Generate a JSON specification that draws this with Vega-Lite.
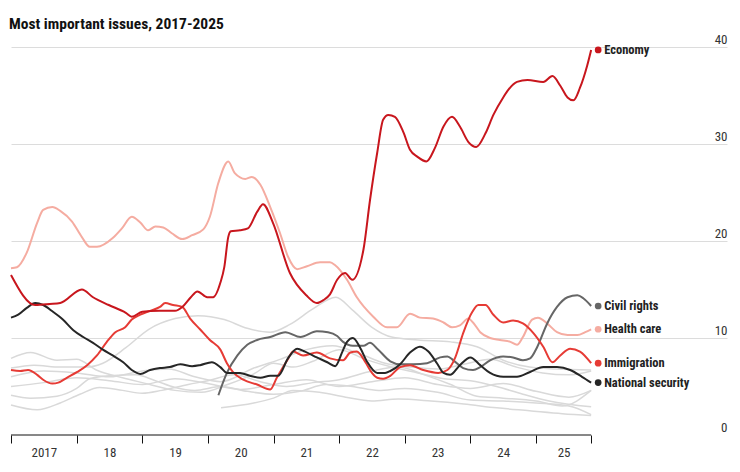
{
  "$schema": "https://vega.github.io/schema/vega-lite/v6.json",
  "width": 716,
  "height": 388,
  "autosize": {"type": "none"},
  "padding": {"left": 11, "top": 47, "right": 13, "bottom": 37},
  "background": "white",
  "title": {"text": "Most important issues, 2017-2025", "anchor": "start", "frame": "group", "fontSize": 15.5, "fontWeight": "bold", "font": "Liberation Sans Narrow, Roboto Condensed, DejaVu Sans Condensed, sans-serif", "color": "#111111", "offset": 19, "baseline": "alphabetic", "dx": -2, "dy": 30},
  "config": {
    "view": {"stroke": null},
    "font": "Liberation Sans Narrow, Roboto Condensed, DejaVu Sans Condensed, sans-serif"
  },
  "datasets": {
    "bg": [
      {"s":"G1","t":2017.00,"v":6.9},{"s":"G1","t":2017.35,"v":7.2},{"s":"G1","t":2017.75,"v":7.0},{"s":"G1","t":2018.15,"v":7.0},{"s":"G1","t":2018.40,"v":7.4},{"s":"G1","t":2018.75,"v":9.0},{"s":"G1","t":2019.10,"v":10.9},{"s":"G1","t":2019.50,"v":12.0},{"s":"G1","t":2019.85,"v":12.3},{"s":"G1","t":2020.25,"v":11.9},{"s":"G1","t":2020.60,"v":11.0},{"s":"G1","t":2020.95,"v":10.6},{"s":"G1","t":2021.25,"v":11.4},{"s":"G1","t":2021.60,"v":13.0},{"s":"G1","t":2021.95,"v":14.2},{"s":"G1","t":2022.20,"v":12.9},{"s":"G1","t":2022.50,"v":11.1},{"s":"G1","t":2022.80,"v":10.1},{"s":"G1","t":2023.20,"v":9.8},{"s":"G1","t":2023.70,"v":9.6},{"s":"G1","t":2024.10,"v":9.1},{"s":"G1","t":2024.50,"v":7.7},{"s":"G1","t":2024.90,"v":7.0},{"s":"G1","t":2025.30,"v":6.8},{"s":"G1","t":2025.84,"v":6.7},
      {"s":"G2","t":2017.00,"v":7.9},{"s":"G2","t":2017.30,"v":8.5},{"s":"G2","t":2017.70,"v":7.7},{"s":"G2","t":2018.00,"v":7.8},{"s":"G2","t":2018.30,"v":6.7},{"s":"G2","t":2018.70,"v":5.9},{"s":"G2","t":2019.00,"v":5.4},{"s":"G2","t":2019.50,"v":4.6},{"s":"G2","t":2019.90,"v":4.4},{"s":"G2","t":2020.30,"v":5.2},{"s":"G2","t":2020.70,"v":6.3},{"s":"G2","t":2021.00,"v":7.4},{"s":"G2","t":2021.30,"v":7.0},{"s":"G2","t":2021.60,"v":7.6},{"s":"G2","t":2022.00,"v":8.8},{"s":"G2","t":2022.40,"v":7.8},{"s":"G2","t":2022.80,"v":7.0},{"s":"G2","t":2023.20,"v":6.4},{"s":"G2","t":2023.60,"v":5.8},{"s":"G2","t":2024.00,"v":5.6},{"s":"G2","t":2024.40,"v":5.0},{"s":"G2","t":2024.80,"v":4.2},{"s":"G2","t":2025.20,"v":3.5},{"s":"G2","t":2025.84,"v":2.9},
      {"s":"G3","t":2017.00,"v":4.1},{"s":"G3","t":2017.30,"v":3.8},{"s":"G3","t":2017.70,"v":4.0},{"s":"G3","t":2018.00,"v":4.8},{"s":"G3","t":2018.20,"v":5.8},{"s":"G3","t":2018.50,"v":6.1},{"s":"G3","t":2018.90,"v":6.2},{"s":"G3","t":2019.20,"v":5.6},{"s":"G3","t":2019.50,"v":4.9},{"s":"G3","t":2019.80,"v":4.6},{"s":"G3","t":2020.20,"v":5.0},{"s":"G3","t":2020.60,"v":4.5},{"s":"G3","t":2021.00,"v":4.2},{"s":"G3","t":2021.40,"v":4.5},{"s":"G3","t":2021.80,"v":5.2},{"s":"G3","t":2022.20,"v":5.0},{"s":"G3","t":2022.60,"v":4.6},{"s":"G3","t":2023.00,"v":4.8},{"s":"G3","t":2023.50,"v":4.4},{"s":"G3","t":2024.00,"v":3.6},{"s":"G3","t":2024.50,"v":3.5},{"s":"G3","t":2025.00,"v":3.3},{"s":"G3","t":2025.50,"v":3.0},{"s":"G3","t":2025.84,"v":2.1},
      {"s":"G4","t":2017.00,"v":3.1},{"s":"G4","t":2017.40,"v":2.6},{"s":"G4","t":2017.75,"v":3.3},{"s":"G4","t":2018.05,"v":4.2},{"s":"G4","t":2018.35,"v":4.9},{"s":"G4","t":2018.70,"v":4.6},{"s":"G4","t":2019.00,"v":4.3},{"s":"G4","t":2019.30,"v":4.6},{"s":"G4","t":2019.70,"v":5.2},{"s":"G4","t":2020.00,"v":5.6},{"s":"G4","t":2020.40,"v":6.2},{"s":"G4","t":2020.80,"v":5.5},{"s":"G4","t":2021.20,"v":5.0},{"s":"G4","t":2021.60,"v":5.4},{"s":"G4","t":2022.00,"v":5.7},{"s":"G4","t":2022.50,"v":6.6},{"s":"G4","t":2022.90,"v":7.0},{"s":"G4","t":2023.30,"v":6.2},{"s":"G4","t":2023.70,"v":5.2},{"s":"G4","t":2024.10,"v":4.0},{"s":"G4","t":2024.50,"v":3.8},{"s":"G4","t":2025.00,"v":3.5},{"s":"G4","t":2025.40,"v":3.0},{"s":"G4","t":2025.84,"v":4.6},
      {"s":"G5","t":2017.00,"v":6.0},{"s":"G5","t":2017.50,"v":6.6},{"s":"G5","t":2018.00,"v":6.4},{"s":"G5","t":2018.50,"v":6.0},{"s":"G5","t":2019.00,"v":6.6},{"s":"G5","t":2019.40,"v":6.8},{"s":"G5","t":2019.80,"v":6.0},{"s":"G5","t":2020.20,"v":5.5},{"s":"G5","t":2020.70,"v":6.9},{"s":"G5","t":2021.10,"v":7.8},{"s":"G5","t":2021.50,"v":8.8},{"s":"G5","t":2021.90,"v":9.2},{"s":"G5","t":2022.30,"v":8.4},{"s":"G5","t":2022.70,"v":7.4},{"s":"G5","t":2023.10,"v":7.0},{"s":"G5","t":2023.50,"v":6.8},{"s":"G5","t":2023.90,"v":7.3},{"s":"G5","t":2024.30,"v":7.8},{"s":"G5","t":2024.70,"v":7.0},{"s":"G5","t":2025.10,"v":6.4},{"s":"G5","t":2025.50,"v":6.2},{"s":"G5","t":2025.84,"v":6.6},
      {"s":"G6","t":2020.20,"v":2.8},{"s":"G6","t":2020.70,"v":3.3},{"s":"G6","t":2021.00,"v":3.8},{"s":"G6","t":2021.30,"v":4.6},{"s":"G6","t":2021.70,"v":4.4},{"s":"G6","t":2022.10,"v":3.9},{"s":"G6","t":2022.50,"v":3.5},{"s":"G6","t":2022.90,"v":3.7},{"s":"G6","t":2023.40,"v":3.5},{"s":"G6","t":2023.90,"v":3.2},{"s":"G6","t":2024.40,"v":2.8},{"s":"G6","t":2024.90,"v":2.5},{"s":"G6","t":2025.40,"v":2.2},{"s":"G6","t":2025.84,"v":2.0},
      {"s":"G7","t":2017.00,"v":5.0},{"s":"G7","t":2017.50,"v":5.4},{"s":"G7","t":2018.00,"v":5.9},{"s":"G7","t":2018.50,"v":5.6},{"s":"G7","t":2019.00,"v":5.2},{"s":"G7","t":2019.50,"v":5.8},{"s":"G7","t":2020.00,"v":5.3},{"s":"G7","t":2020.50,"v":4.7},{"s":"G7","t":2021.00,"v":5.2},{"s":"G7","t":2021.50,"v":5.7},{"s":"G7","t":2022.00,"v":5.0},{"s":"G7","t":2022.50,"v":5.5},{"s":"G7","t":2023.00,"v":5.9},{"s":"G7","t":2023.50,"v":5.2},{"s":"G7","t":2024.00,"v":4.8},{"s":"G7","t":2024.50,"v":5.3},{"s":"G7","t":2025.00,"v":4.5},{"s":"G7","t":2025.50,"v":3.9},{"s":"G7","t":2025.84,"v":4.6}
    ],
    "main": [
      {"s":"Health care","t":2017.00,"v":17.2},{"s":"Health care","t":2017.09,"v":17.3},{"s":"Health care","t":2017.24,"v":18.8},{"s":"Health care","t":2017.40,"v":21.9},{"s":"Health care","t":2017.49,"v":23.2},{"s":"Health care","t":2017.63,"v":23.5},{"s":"Health care","t":2017.75,"v":23.1},{"s":"Health care","t":2017.93,"v":22.0},{"s":"Health care","t":2018.08,"v":20.4},{"s":"Health care","t":2018.20,"v":19.4},{"s":"Health care","t":2018.31,"v":19.4},{"s":"Health care","t":2018.55,"v":20.3},{"s":"Health care","t":2018.69,"v":21.3},{"s":"Health care","t":2018.84,"v":22.5},{"s":"Health care","t":2018.97,"v":21.9},{"s":"Health care","t":2019.09,"v":21.1},{"s":"Health care","t":2019.20,"v":21.5},{"s":"Health care","t":2019.32,"v":21.4},{"s":"Health care","t":2019.45,"v":20.8},{"s":"Health care","t":2019.61,"v":20.2},{"s":"Health care","t":2019.76,"v":20.6},{"s":"Health care","t":2019.93,"v":21.2},{"s":"Health care","t":2020.03,"v":22.5},{"s":"Health care","t":2020.16,"v":26.0},{"s":"Health care","t":2020.31,"v":28.2},{"s":"Health care","t":2020.41,"v":27.0},{"s":"Health care","t":2020.57,"v":26.4},{"s":"Health care","t":2020.67,"v":26.6},{"s":"Health care","t":2020.80,"v":25.8},{"s":"Health care","t":2020.95,"v":23.5},{"s":"Health care","t":2021.10,"v":20.8},{"s":"Health care","t":2021.22,"v":18.4},{"s":"Health care","t":2021.36,"v":17.1},{"s":"Health care","t":2021.51,"v":17.4},{"s":"Health care","t":2021.71,"v":17.8},{"s":"Health care","t":2021.86,"v":17.8},{"s":"Health care","t":2021.94,"v":17.5},{"s":"Health care","t":2022.12,"v":16.0},{"s":"Health care","t":2022.27,"v":14.2},{"s":"Health care","t":2022.52,"v":12.2},{"s":"Health care","t":2022.73,"v":11.1},{"s":"Health care","t":2022.88,"v":11.1},{"s":"Health care","t":2023.08,"v":12.5},{"s":"Health care","t":2023.23,"v":12.1},{"s":"Health care","t":2023.43,"v":12.0},{"s":"Health care","t":2023.59,"v":11.6},{"s":"Health care","t":2023.72,"v":11.1},{"s":"Health care","t":2023.84,"v":11.3},{"s":"Health care","t":2023.97,"v":12.0},{"s":"Health care","t":2024.04,"v":11.6},{"s":"Health care","t":2024.15,"v":10.6},{"s":"Health care","t":2024.30,"v":10.0},{"s":"Health care","t":2024.45,"v":9.8},{"s":"Health care","t":2024.61,"v":9.6},{"s":"Health care","t":2024.71,"v":9.3},{"s":"Health care","t":2024.80,"v":10.1},{"s":"Health care","t":2024.94,"v":11.9},{"s":"Health care","t":2025.03,"v":12.1},{"s":"Health care","t":2025.17,"v":11.5},{"s":"Health care","t":2025.32,"v":10.6},{"s":"Health care","t":2025.48,"v":10.3},{"s":"Health care","t":2025.63,"v":10.3},{"s":"Health care","t":2025.75,"v":10.6},{"s":"Health care","t":2025.84,"v":10.9},
      {"s":"Civil rights","t":2020.16,"v":4.1},{"s":"Civil rights","t":2020.29,"v":6.4},{"s":"Civil rights","t":2020.45,"v":8.2},{"s":"Civil rights","t":2020.60,"v":9.3},{"s":"Civil rights","t":2020.75,"v":9.8},{"s":"Civil rights","t":2020.95,"v":10.1},{"s":"Civil rights","t":2021.18,"v":10.6},{"s":"Civil rights","t":2021.41,"v":10.1},{"s":"Civil rights","t":2021.66,"v":10.7},{"s":"Civil rights","t":2021.83,"v":10.6},{"s":"Civil rights","t":2021.97,"v":10.2},{"s":"Civil rights","t":2022.06,"v":9.6},{"s":"Civil rights","t":2022.21,"v":9.2},{"s":"Civil rights","t":2022.37,"v":9.2},{"s":"Civil rights","t":2022.47,"v":9.5},{"s":"Civil rights","t":2022.58,"v":8.9},{"s":"Civil rights","t":2022.78,"v":7.6},{"s":"Civil rights","t":2022.93,"v":7.3},{"s":"Civil rights","t":2023.13,"v":7.3},{"s":"Civil rights","t":2023.34,"v":7.4},{"s":"Civil rights","t":2023.54,"v":8.0},{"s":"Civil rights","t":2023.65,"v":8.1},{"s":"Civil rights","t":2023.74,"v":7.7},{"s":"Civil rights","t":2023.89,"v":6.9},{"s":"Civil rights","t":2024.04,"v":6.7},{"s":"Civil rights","t":2024.15,"v":7.0},{"s":"Civil rights","t":2024.30,"v":7.7},{"s":"Civil rights","t":2024.50,"v":8.1},{"s":"Civil rights","t":2024.65,"v":8.0},{"s":"Civil rights","t":2024.80,"v":7.7},{"s":"Civil rights","t":2024.91,"v":7.9},{"s":"Civil rights","t":2025.02,"v":9.1},{"s":"Civil rights","t":2025.17,"v":11.5},{"s":"Civil rights","t":2025.32,"v":13.2},{"s":"Civil rights","t":2025.48,"v":14.2},{"s":"Civil rights","t":2025.63,"v":14.4},{"s":"Civil rights","t":2025.72,"v":14.1},{"s":"Civil rights","t":2025.84,"v":13.3},
      {"s":"Immigration","t":2017.00,"v":6.7},{"s":"Immigration","t":2017.14,"v":6.6},{"s":"Immigration","t":2017.26,"v":6.7},{"s":"Immigration","t":2017.40,"v":6.2},{"s":"Immigration","t":2017.49,"v":5.7},{"s":"Immigration","t":2017.63,"v":5.3},{"s":"Immigration","t":2017.72,"v":5.4},{"s":"Immigration","t":2017.85,"v":5.9},{"s":"Immigration","t":2018.01,"v":6.5},{"s":"Immigration","t":2018.16,"v":7.2},{"s":"Immigration","t":2018.31,"v":8.2},{"s":"Immigration","t":2018.46,"v":9.6},{"s":"Immigration","t":2018.59,"v":10.6},{"s":"Immigration","t":2018.74,"v":11.1},{"s":"Immigration","t":2018.84,"v":11.9},{"s":"Immigration","t":2018.97,"v":12.4},{"s":"Immigration","t":2019.12,"v":12.8},{"s":"Immigration","t":2019.27,"v":13.2},{"s":"Immigration","t":2019.35,"v":13.6},{"s":"Immigration","t":2019.47,"v":13.4},{"s":"Immigration","t":2019.61,"v":13.2},{"s":"Immigration","t":2019.73,"v":12.0},{"s":"Immigration","t":2019.88,"v":10.9},{"s":"Immigration","t":2020.03,"v":9.8},{"s":"Immigration","t":2020.19,"v":8.8},{"s":"Immigration","t":2020.29,"v":7.4},{"s":"Immigration","t":2020.38,"v":6.5},{"s":"Immigration","t":2020.54,"v":5.7},{"s":"Immigration","t":2020.75,"v":5.2},{"s":"Immigration","t":2020.95,"v":4.7},{"s":"Immigration","t":2021.05,"v":5.9},{"s":"Immigration","t":2021.21,"v":7.7},{"s":"Immigration","t":2021.30,"v":8.6},{"s":"Immigration","t":2021.45,"v":8.2},{"s":"Immigration","t":2021.66,"v":8.5},{"s":"Immigration","t":2021.86,"v":7.9},{"s":"Immigration","t":2022.06,"v":7.7},{"s":"Immigration","t":2022.17,"v":8.5},{"s":"Immigration","t":2022.27,"v":8.6},{"s":"Immigration","t":2022.40,"v":7.5},{"s":"Immigration","t":2022.50,"v":6.4},{"s":"Immigration","t":2022.58,"v":5.9},{"s":"Immigration","t":2022.67,"v":5.8},{"s":"Immigration","t":2022.78,"v":6.1},{"s":"Immigration","t":2022.93,"v":7.0},{"s":"Immigration","t":2023.08,"v":7.2},{"s":"Immigration","t":2023.28,"v":6.7},{"s":"Immigration","t":2023.51,"v":6.4},{"s":"Immigration","t":2023.65,"v":6.7},{"s":"Immigration","t":2023.77,"v":8.0},{"s":"Immigration","t":2023.89,"v":10.5},{"s":"Immigration","t":2024.03,"v":12.7},{"s":"Immigration","t":2024.12,"v":13.4},{"s":"Immigration","t":2024.23,"v":13.4},{"s":"Immigration","t":2024.35,"v":12.4},{"s":"Immigration","t":2024.50,"v":11.6},{"s":"Immigration","t":2024.65,"v":11.8},{"s":"Immigration","t":2024.80,"v":11.5},{"s":"Immigration","t":2024.96,"v":10.5},{"s":"Immigration","t":2025.11,"v":9.1},{"s":"Immigration","t":2025.25,"v":7.5},{"s":"Immigration","t":2025.37,"v":8.2},{"s":"Immigration","t":2025.52,"v":8.9},{"s":"Immigration","t":2025.67,"v":8.6},{"s":"Immigration","t":2025.84,"v":7.4},
      {"s":"National security","t":2017.00,"v":12.1},{"s":"National security","t":2017.11,"v":12.4},{"s":"National security","t":2017.24,"v":13.1},{"s":"National security","t":2017.37,"v":13.6},{"s":"National security","t":2017.49,"v":13.4},{"s":"National security","t":2017.64,"v":12.7},{"s":"National security","t":2017.79,"v":11.9},{"s":"National security","t":2017.95,"v":10.8},{"s":"National security","t":2018.10,"v":10.1},{"s":"National security","t":2018.25,"v":9.5},{"s":"National security","t":2018.40,"v":8.8},{"s":"National security","t":2018.55,"v":8.2},{"s":"National security","t":2018.71,"v":7.5},{"s":"National security","t":2018.84,"v":6.7},{"s":"National security","t":2018.97,"v":6.3},{"s":"National security","t":2019.12,"v":6.7},{"s":"National security","t":2019.27,"v":6.9},{"s":"National security","t":2019.42,"v":7.0},{"s":"National security","t":2019.58,"v":7.3},{"s":"National security","t":2019.76,"v":7.1},{"s":"National security","t":2019.88,"v":7.2},{"s":"National security","t":2020.06,"v":7.5},{"s":"National security","t":2020.19,"v":7.0},{"s":"National security","t":2020.29,"v":6.4},{"s":"National security","t":2020.49,"v":6.4},{"s":"National security","t":2020.64,"v":6.1},{"s":"National security","t":2020.80,"v":5.9},{"s":"National security","t":2020.95,"v":6.1},{"s":"National security","t":2021.07,"v":6.1},{"s":"National security","t":2021.22,"v":7.9},{"s":"National security","t":2021.36,"v":8.9},{"s":"National security","t":2021.48,"v":8.6},{"s":"National security","t":2021.66,"v":8.0},{"s":"National security","t":2021.82,"v":7.5},{"s":"National security","t":2021.94,"v":7.1},{"s":"National security","t":2022.05,"v":8.6},{"s":"National security","t":2022.12,"v":9.6},{"s":"National security","t":2022.21,"v":10.0},{"s":"National security","t":2022.32,"v":9.0},{"s":"National security","t":2022.43,"v":7.5},{"s":"National security","t":2022.58,"v":6.4},{"s":"National security","t":2022.70,"v":6.4},{"s":"National security","t":2022.78,"v":6.6},{"s":"National security","t":2022.93,"v":7.3},{"s":"National security","t":2023.08,"v":8.5},{"s":"National security","t":2023.23,"v":9.1},{"s":"National security","t":2023.36,"v":8.6},{"s":"National security","t":2023.49,"v":7.4},{"s":"National security","t":2023.59,"v":6.4},{"s":"National security","t":2023.69,"v":6.2},{"s":"National security","t":2023.84,"v":7.2},{"s":"National security","t":2024.00,"v":8.0},{"s":"National security","t":2024.15,"v":7.2},{"s":"National security","t":2024.30,"v":6.4},{"s":"National security","t":2024.50,"v":6.0},{"s":"National security","t":2024.71,"v":6.0},{"s":"National security","t":2024.91,"v":6.5},{"s":"National security","t":2025.11,"v":7.0},{"s":"National security","t":2025.32,"v":7.0},{"s":"National security","t":2025.52,"v":6.7},{"s":"National security","t":2025.70,"v":6.0},{"s":"National security","t":2025.84,"v":5.4},
      {"s":"Economy","t":2017.00,"v":16.5},{"s":"Economy","t":2017.37,"v":13.4},{"s":"Economy","t":2017.59,"v":13.5},{"s":"Economy","t":2017.75,"v":13.6},{"s":"Economy","t":2018.08,"v":15.0},{"s":"Economy","t":2018.25,"v":14.2},{"s":"Economy","t":2018.49,"v":13.4},{"s":"Economy","t":2018.75,"v":12.6},{"s":"Economy","t":2018.84,"v":12.2},{"s":"Economy","t":2019.00,"v":12.7},{"s":"Economy","t":2019.26,"v":12.8},{"s":"Economy","t":2019.50,"v":12.8},{"s":"Economy","t":2019.61,"v":13.2},{"s":"Economy","t":2019.74,"v":14.2},{"s":"Economy","t":2019.84,"v":14.8},{"s":"Economy","t":2019.99,"v":14.2},{"s":"Economy","t":2020.08,"v":14.2},{"s":"Economy","t":2020.19,"v":15.7},{"s":"Economy","t":2020.25,"v":17.3},{"s":"Economy","t":2020.31,"v":20.4},{"s":"Economy","t":2020.35,"v":21.0},{"s":"Economy","t":2020.49,"v":21.1},{"s":"Economy","t":2020.61,"v":21.3},{"s":"Economy","t":2020.75,"v":23.0},{"s":"Economy","t":2020.84,"v":23.8},{"s":"Economy","t":2020.99,"v":21.9},{"s":"Economy","t":2021.25,"v":16.7},{"s":"Economy","t":2021.50,"v":14.4},{"s":"Economy","t":2021.66,"v":13.6},{"s":"Economy","t":2021.76,"v":13.9},{"s":"Economy","t":2021.86,"v":14.5},{"s":"Economy","t":2021.97,"v":16.0},{"s":"Economy","t":2022.09,"v":16.7},{"s":"Economy","t":2022.20,"v":16.0},{"s":"Economy","t":2022.37,"v":19.1},{"s":"Economy","t":2022.47,"v":24.2},{"s":"Economy","t":2022.58,"v":29.1},{"s":"Economy","t":2022.67,"v":32.5},{"s":"Economy","t":2022.75,"v":33.0},{"s":"Economy","t":2022.85,"v":32.8},{"s":"Economy","t":2022.98,"v":31.2},{"s":"Economy","t":2023.08,"v":29.4},{"s":"Economy","t":2023.19,"v":28.7},{"s":"Economy","t":2023.33,"v":28.2},{"s":"Economy","t":2023.46,"v":29.6},{"s":"Economy","t":2023.59,"v":31.8},{"s":"Economy","t":2023.72,"v":32.8},{"s":"Economy","t":2023.84,"v":31.8},{"s":"Economy","t":2023.97,"v":30.2},{"s":"Economy","t":2024.09,"v":29.7},{"s":"Economy","t":2024.23,"v":31.1},{"s":"Economy","t":2024.35,"v":33.0},{"s":"Economy","t":2024.50,"v":34.8},{"s":"Economy","t":2024.58,"v":35.6},{"s":"Economy","t":2024.71,"v":36.4},{"s":"Economy","t":2024.87,"v":36.6},{"s":"Economy","t":2025.11,"v":36.4},{"s":"Economy","t":2025.25,"v":37.0},{"s":"Economy","t":2025.37,"v":36.0},{"s":"Economy","t":2025.48,"v":34.8},{"s":"Economy","t":2025.57,"v":34.5},{"s":"Economy","t":2025.67,"v":35.8},{"s":"Economy","t":2025.78,"v":38.1},{"s":"Economy","t":2025.84,"v":39.7}
    ],
    "axisline": [{"a": 2017, "b": 2025.84}]
  },
  "layer": [
    {
      "data": {"name": "bg"},
      "mark": {"type": "line", "interpolate": "monotone", "strokeWidth": 1.5, "color": "#d9d9d9"},
      "encoding": {
        "x": {
          "field": "t", "type": "quantitative",
          "scale": {"domain": [2017, 2027.91], "nice": false, "zero": false},
          "axis": {
            "orient": "bottom", "title": null, "domain": false, "grid": false,
            "values": [2017, 2018, 2019, 2020, 2021, 2022, 2023, 2024, 2025, 2025.84],
            "ticks": true, "tickSize": 8, "tickColor": "#111111", "tickWidth": 1,
            "labelExpr": "datum.value == 2017 ? '2017' : (datum.value > 2025.5 ? '' : substring(toString(datum.value), 2, 4))",
            "labelOffset": {"condition": {"test": "datum.value == 2025", "value": 27.6}, "value": 32.8},
            "labelAlign": "center", "labelBaseline": "top", "labelPadding": 3,
            "labelFontSize": 13, "labelColor": "#333333", "labelFlush": false, "labelOverlap": false, "labelBound": false
          }
        },
        "y": {
          "field": "v", "type": "quantitative",
          "scale": {"domain": [0, 40], "nice": false, "zero": true},
          "axis": {
            "orient": "right", "title": null, "domain": false, "ticks": false, "grid": true,
            "values": [0, 10, 20, 30, 40],
            "gridColor": "#dcdcdc", "gridWidth": 1,
            "gridOpacity": {"condition": {"test": "datum.value == 0", "value": 0}, "value": 1},
            "labelAlign": "right", "labelBaseline": "alphabetic", "labelOffset": -4, "labelPadding": 0,
            "labelFontSize": 13, "labelColor": "#333333"
          }
        },
        "detail": {"field": "s"}
      }
    },
    {
      "data": {"name": "main"},
      "mark": {"type": "line", "interpolate": "monotone", "strokeWidth": 2},
      "encoding": {
        "x": {"field": "t", "type": "quantitative"},
        "y": {"field": "v", "type": "quantitative"},
        "color": {
          "field": "s", "type": "nominal", "legend": null,
          "scale": {"domain": ["Economy", "Health care", "Civil rights", "Immigration", "National security"], "range": ["#c8161d", "#f5aca1", "#666666", "#e63b35", "#262626"]}
        }
      }
    },
    {
      "data": {"name": "main"},
      "transform": [{"filter": "datum.t >= 2025.84"}],
      "mark": {"type": "point", "filled": true, "size": 45, "opacity": 1, "xOffset": 7},
      "encoding": {
        "x": {"field": "t", "type": "quantitative"},
        "y": {"field": "v", "type": "quantitative"},
        "color": {"field": "s", "type": "nominal", "legend": null}
      }
    },
    {
      "data": {"name": "main"},
      "transform": [{"filter": "datum.t >= 2025.84"}],
      "mark": {"type": "text", "align": "left", "baseline": "middle", "dx": 13, "fontSize": 12.5, "fontWeight": "bold", "color": "#222222"},
      "encoding": {
        "x": {"field": "t", "type": "quantitative"},
        "y": {"field": "v", "type": "quantitative"},
        "text": {"field": "s"}
      }
    },
    {
      "data": {"name": "axisline"},
      "mark": {"type": "rule", "color": "#111111", "strokeWidth": 1},
      "encoding": {
        "x": {"field": "a", "type": "quantitative"},
        "x2": {"field": "b"},
        "y": {"datum": 0}
      }
    }
  ]
}
